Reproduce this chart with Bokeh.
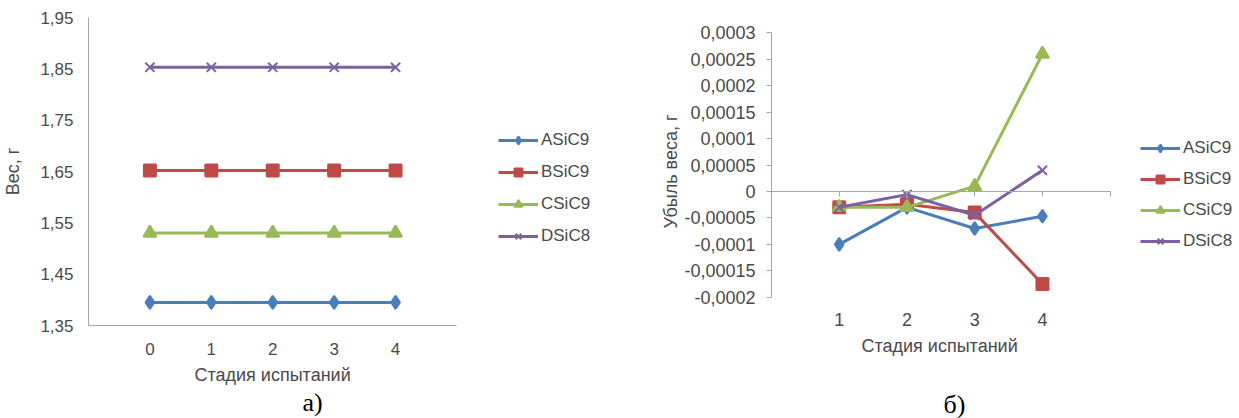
from bokeh.plotting import figure
from bokeh.models import FixedTicker, Range1d, Legend, LegendItem, LinearAxis, Title
from bokeh.layouts import row
from bokeh.embed import file_html
from bokeh.resources import INLINE

# ---------------- data ----------------
series_names = ["ASiC9", "BSiC9", "CSiC9", "DSiC8"]
series_colors = ["#4A7EBB", "#BE4B48", "#98B954", "#7D60A0"]
series_markers = ["diamond", "square", "triangle", "x"]

# chart a) weight, g
stages_a = [0, 1, 2, 3, 4]
weight_ASiC9 = [1.395, 1.395, 1.395, 1.395, 1.395]
weight_BSiC9 = [1.652, 1.652, 1.652, 1.652, 1.652]
weight_CSiC9 = [1.530, 1.530, 1.530, 1.530, 1.530]
weight_DSiC8 = [1.853, 1.853, 1.853, 1.853, 1.853]
yticks_a = [1.35, 1.45, 1.55, 1.65, 1.75, 1.85, 1.95]
ytick_labels_a = ["1,35", "1,45", "1,55", "1,65", "1,75", "1,85", "1,95"]
xtick_labels_a = ["0", "1", "2", "3", "4"]

# chart б) weight loss, g
stages_b = [1, 2, 3, 4]
loss_ASiC9 = [-0.0001, -0.00003, -0.00007, -0.000047]
loss_BSiC9 = [-0.00003, -0.000024, -0.00004, -0.000175]
loss_CSiC9 = [-0.00003, -0.00003, 0.00001, 0.00026]
loss_DSiC8 = [-0.00003, -0.000006, -0.000045, 0.00004]
yticks_b = [-0.0002, -0.00015, -0.0001, -0.00005, 0.0, 0.00005, 0.0001, 0.00015, 0.0002, 0.00025, 0.0003]
ytick_labels_b = ["-0,0002", "-0,00015", "-0,0001", "-0,00005", "0", "0,00005", "0,0001",
                  "0,00015", "0,0002", "0,00025", "0,0003"]
xticks_b = [1, 2, 3, 4, 5]
xtick_labels_b = ["1", "2", "3", "4", ""]

x_title = "Стадия испытаний"
FONT = "Liberation Sans"
TXT = "#4a4a4a"
AXC = "#A6A6A6"


def style_axis(ax, tick_fs, title_fs="18px"):
    ax.major_label_text_font = FONT
    ax.major_label_text_font_size = tick_fs
    ax.major_label_text_color = TXT
    ax.axis_label_text_font = FONT
    ax.axis_label_text_font_size = title_fs
    ax.axis_label_text_color = TXT
    ax.axis_label_text_font_style = "normal"
    ax.axis_line_color = AXC
    ax.major_tick_line_color = AXC
    ax.minor_tick_line_color = None


def make_legend(p, renderers, loc, pitch_spacing):
    items = [LegendItem(label=n, renderers=r) for n, r in zip(series_names, renderers)]
    lg = Legend(items=items, location=loc, orientation="vertical",
                border_line_alpha=0, background_fill_alpha=0,
                padding=0, margin=0, spacing=pitch_spacing,
                glyph_width=40, glyph_height=20, label_height=20,
                label_standoff=3,
                label_text_font=FONT, label_text_font_size="17px", label_text_color=TXT)
    p.add_layout(lg)


def axis_title(text, offset, standoff):
    return Title(text=text, align="left", offset=offset, standoff=standoff,
                 text_font=FONT, text_font_size="18px",
                 text_font_style="normal", text_color=TXT)


def caption(text, offset, standoff):
    return Title(text=text, align="left", offset=offset, standoff=standoff,
                 text_font="Liberation Serif", text_font_size="26px",
                 text_font_style="normal", text_color="#000000")


# ---------------- chart a ----------------
# the frame extends to the right to hold the legend; the category axis is bounded
p1 = figure(width=620, height=418, output_backend="svg", toolbar_location=None,
            x_range=Range1d(-1, 7.5), y_range=Range1d(1.35, 1.95),
            min_border_left=0, min_border_right=10, min_border_top=17, min_border_bottom=93)
p1.outline_line_color = None
p1.grid.grid_line_color = None
p1.xaxis.ticker = FixedTicker(ticks=stages_a)
p1.xaxis.major_label_overrides = {s: l for s, l in zip(stages_a, xtick_labels_a)}
p1.xaxis.bounds = (-1, 5)
p1.yaxis.ticker = FixedTicker(ticks=yticks_a)
p1.yaxis.major_label_overrides = {t: l for t, l in zip(yticks_a, ytick_labels_a)}
p1.yaxis.axis_label = "Вес, г"
for ax in (p1.xaxis[0], p1.yaxis[0]):
    style_axis(ax, "17px")
    ax.major_tick_out = 0
    ax.major_tick_in = 0
p1.xaxis.major_label_standoff = 17
p1.yaxis.major_label_standoff = 15
p1.yaxis.axis_label_standoff = 14

rends1 = []
for ys, c, m in zip([weight_ASiC9, weight_BSiC9, weight_CSiC9, weight_DSiC8], series_colors, series_markers):
    lr = p1.line(stages_a, ys, line_color=c, line_width=3)
    sr = p1.scatter(stages_a, ys, marker=m, size=13 if m != "square" else 12,
                    fill_color=c, line_color=c, line_width=2)
    rends1.append([lr, sr])
make_legend(p1, rends1, (410, 79), 12)
p1.add_layout(axis_title(x_title, 106, 10), "below")
p1.add_layout(caption("а)", 214, -8), "below")

# ---------------- chart б ----------------
# frame shares top/bottom with chart a; value axis bounded to its own span
p2 = figure(width=619, height=418, output_backend="svg", toolbar_location=None,
            x_range=Range1d(0, 6.85), y_range=Range1d(-0.0002535, 0.000329),
            min_border_left=151, min_border_right=4, min_border_top=17, min_border_bottom=93)
p2.outline_line_color = None
p2.grid.grid_line_color = None
p2.xaxis.ticker = FixedTicker(ticks=stages_b)
p2.xaxis.major_label_overrides = {s: l for s, l in zip(xticks_b, xtick_labels_b)}
p2.yaxis.ticker = FixedTicker(ticks=yticks_b)
p2.yaxis.major_label_overrides = {t: l for t, l in zip(yticks_b, ytick_labels_b)}
p2.yaxis.axis_label = "Убыль веса, г"
p2.yaxis.bounds = (yticks_b[0], yticks_b[-1])
style_axis(p2.xaxis[0], "18px")
style_axis(p2.yaxis[0], "18px")
p2.xaxis.axis_line_color = None
p2.xaxis.major_tick_line_color = None
p2.xaxis.major_label_standoff = -19
p2.yaxis.major_tick_out = 5
p2.yaxis.major_tick_in = 0
p2.yaxis.major_label_standoff = 11
p2.yaxis.axis_label_standoff = 0

# horizontal category axis crossing at zero
zero_axis = LinearAxis(fixed_location=0, ticker=FixedTicker(ticks=xticks_b), bounds=(0, 5),
                       major_label_text_alpha=0, major_label_text_font_size="1px",
                       axis_line_color=AXC, major_tick_line_color=AXC,
                       major_tick_out=5, major_tick_in=0, minor_tick_line_color=None,
                       major_label_standoff=0)
p2.add_layout(zero_axis, "below")

rends2 = []
for ys, c, m in zip([loss_ASiC9, loss_BSiC9, loss_CSiC9, loss_DSiC8], series_colors, series_markers):
    lr = p2.line(stages_b, ys, line_color=c, line_width=3)
    sr = p2.scatter(stages_b, ys, marker=m, size=13 if m != "square" else 12,
                    fill_color=c, line_color=c, line_width=2)
    rends2.append([lr, sr])
make_legend(p2, rends2, (369, 74), 11)
p2.add_layout(axis_title(x_title, 90, 10), "below")
p2.add_layout(Title(text=" ", standoff=17, text_font_size="10px"), "below")
p2.add_layout(caption("б)", 172, -6), "below")

layout = row(p1, p2)
open("out.html", "w").write(file_html(layout, INLINE))
